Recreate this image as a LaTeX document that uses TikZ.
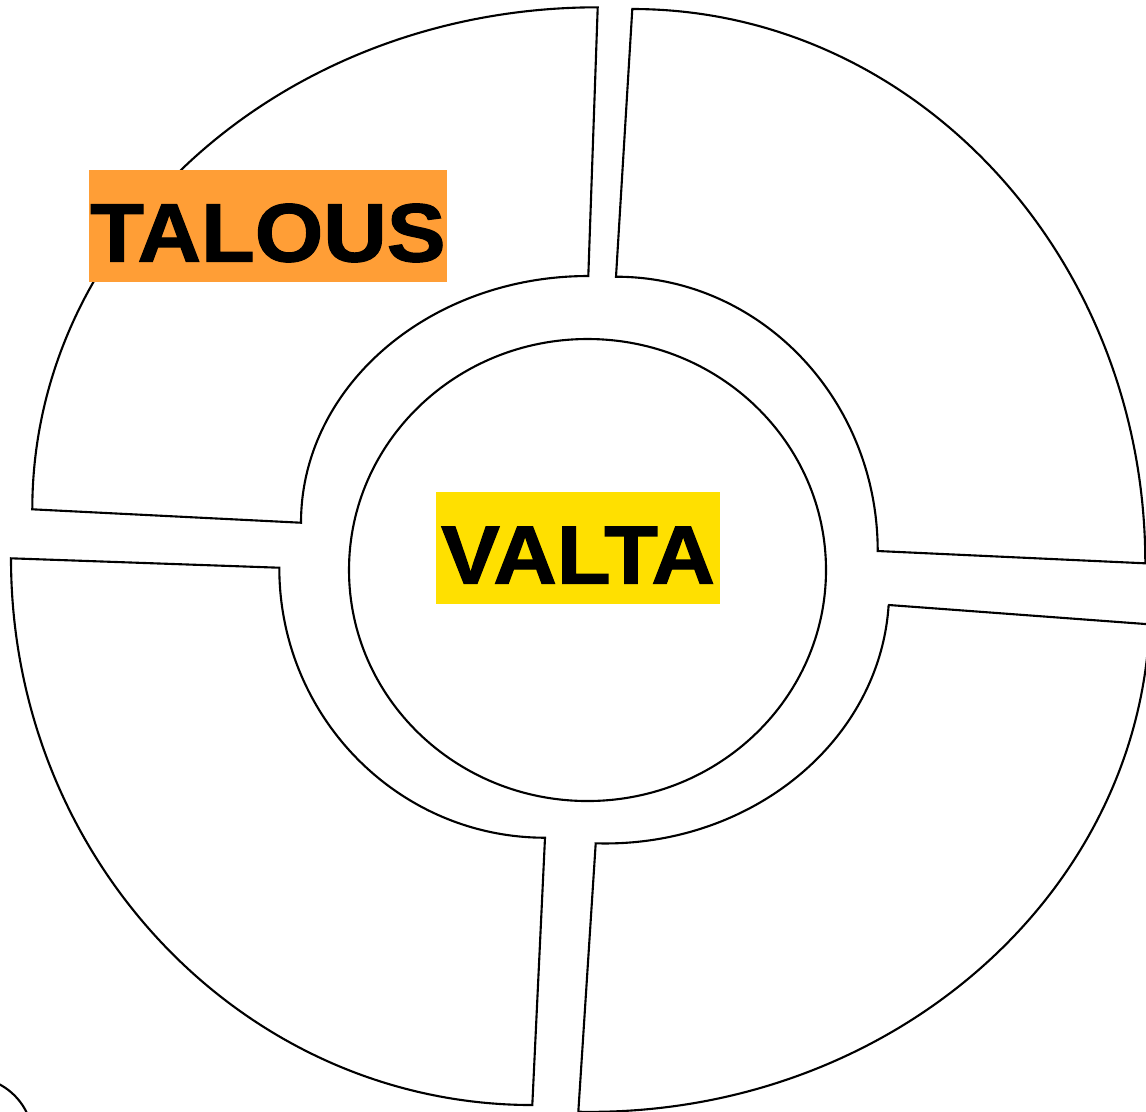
\documentclass[tikz,border=0pt]{standalone}
\usepackage{fontspec}
\usepackage{tikz}
\usetikzlibrary{positioning}
\newfontfamily\tagfont[FakeStretch=1.065, FakeBold=1.5]{Liberation Sans}
\definecolor{talousorange}{RGB}{255, 158, 54}
\definecolor{valtayellow}{RGB}{255, 224, 0}

\begin{document}
\begin{tikzpicture}[
    x=0.01cm, y=0.01cm, yscale=-1,
    ring/.style={draw=black, line width=0.6pt},
    tag/.style={inner sep=0pt, font=\tagfont\bfseries\fontsize{23.5pt}{23.5pt}\selectfont,
                text height=0.71cm, text depth=0pt}
]
    \useasboundingbox (0,0) rectangle (1146,1111);
    \clip (0,0) rectangle (1146,1111);

    \draw[ring] (32.3,509.3) arc[start angle=180, end angle=270, x radius=565.4, y radius=502]
        -- (588.3,276) arc[start angle=270, end angle=180, x radius=287.3, y radius=246.7] -- cycle;
    \draw[ring] (632.3,9) arc[start angle=270, end angle=360, x radius=513, y radius=554.3]
        -- (877.7,551) arc[start angle=360, end angle=270, x radius=261.7, y radius=274.3] -- cycle;
    \draw[ring] (889,605) -- (1149.6,624.3) arc[start angle=2.2, end angle=91.2, x radius=560, y radius=507]
        -- (595.7,843.3) arc[start angle=91.9, end angle=3.4, x radius=284, y radius=253] -- cycle;
    \draw[ring] (11,558.3) -- (279.3,567.7) arc[start angle=180, end angle=90, x radius=265.7, y radius=270]
        -- (532.3,1105) arc[start angle=90, end angle=180, x radius=521.3, y radius=546.7] -- cycle;

    \draw[ring] (587.5,570) ellipse[x radius=238.5, y radius=231];
    \draw[ring] (-30,1140) circle[radius=63];

    \node[tag, fill=talousorange, minimum width=3.577cm, minimum height=1.117cm] (talous) at (267.9,225.9) {TALOUS};
    \node[tag, fill=valtayellow, minimum width=2.84cm, minimum height=1.126cm] (valta) at (578,548) {VALTA};
\end{tikzpicture}
\end{document}
